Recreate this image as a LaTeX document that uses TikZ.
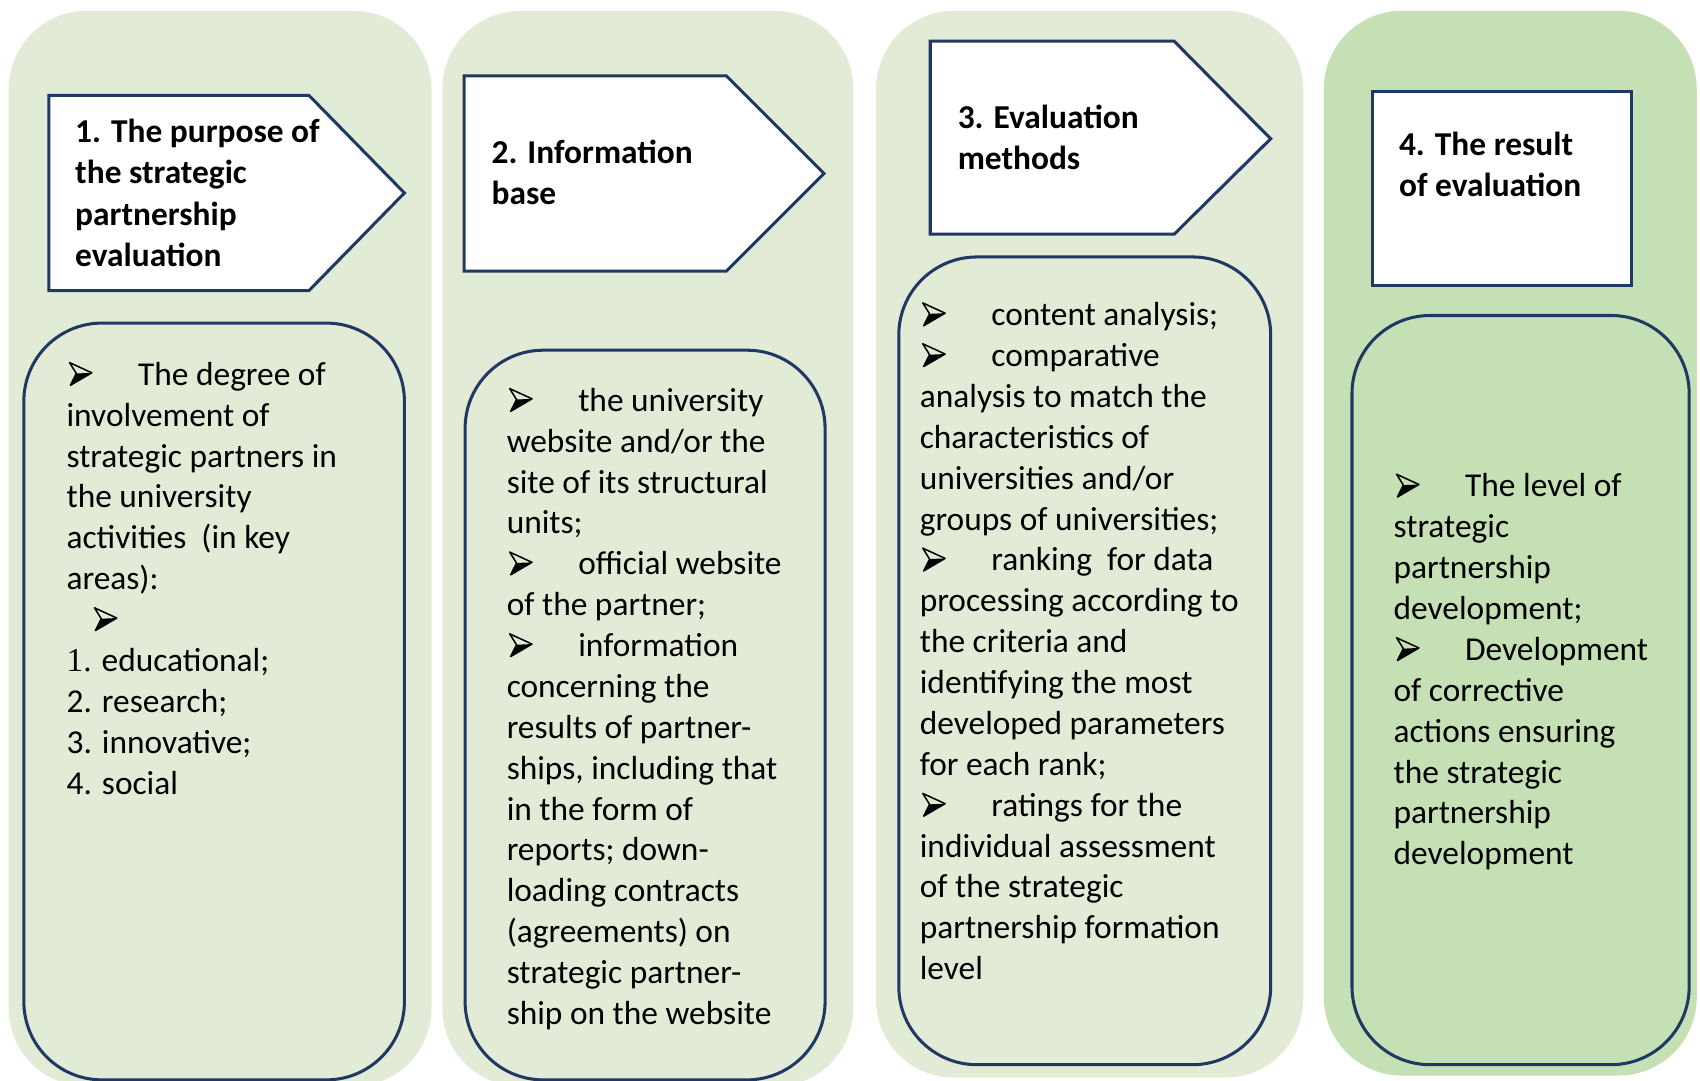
\documentclass[tikz,border=0pt]{standalone}
\usepackage{fontspec}
\setmainfont{Carlito}
\newfontfamily\serifnum{Liberation Serif}
\newcommand{\bul}{\tikz[baseline=0pt,x=10.5pt,y=10.5pt]{%
  \fill[black] (0.32,0.52) -- (1,0.55) -- (0.06,0) -- cycle;
  \draw[black, line width=0.7pt, line join=round] (0.02,1) -- (1,0.55) -- (0.06,0) -- (0.32,0.52) -- cycle;}}
\newcommand{\bitem}{\makebox[33pt][l]{\hspace{1pt}\bul}}
\definecolor{paleg}{RGB}{226,235,214}
\definecolor{darkg}{RGB}{197,224,180}
\definecolor{navy}{RGB}{32,56,100}
\tikzset{
  outerbox/.style={fill=paleg, rounded corners=36pt},
  innerbox/.style={draw=navy, line width=1.4pt, rounded corners=36pt},
  headbox/.style={draw=navy, fill=white, line width=1.4pt},
  bodytext/.style={anchor=north west, inner sep=0pt, align=left, font=\fontsize{15.4}{18.85}\selectfont},
  headtext/.style={anchor=north west, inner sep=0pt, align=left, font=\bfseries\fontsize{15.4}{19}\selectfont}
}
\begin{document}
\begin{tikzpicture}[x=0.5pt,y=-0.5pt]
\useasboundingbox (0,0) rectangle (1568,997);
% outer columns
\fill[outerbox] (8,10) rectangle (398,1002);
\fill[outerbox] (408,10) rectangle (787,1002);
\fill[outerbox] (808,10) rectangle (1202,994);
\fill[outerbox, fill=darkg] (1221,10) rectangle (1565,992);
% heading shapes
\draw[headbox] (45,88) -- (285,88) -- (373,178) -- (285,268) -- (45,268) -- cycle;
\draw[headbox] (428,70) -- (670,70) -- (760,160) -- (670,250) -- (428,250) -- cycle;
\draw[headbox] (858,38) -- (1083,38) -- (1172,128) -- (1083,216) -- (858,216) -- cycle;
\draw[headbox] (1266,84) rectangle (1505,263);
% inner boxes
\draw[innerbox] (22,298) rectangle (373,996);
\draw[innerbox] (429,323) rectangle (761,996);
\draw[innerbox] (829,237) rectangle (1172,982);
\draw[innerbox] (1247,291) rectangle (1558,982);
% heading texts
\node[headtext] (h1) at (69,104.6) {\strut 1. The purpose of\\the strategic\\partnership\\evaluation};
\node[headtext] (h2) at (453,123.6) {\strut 2. Information\\base};
\node[headtext] (h3) at (883,91.6) {\strut 3. Evaluation\\methods};
\node[headtext] (h4) at (1290,116.6) {\strut 4. The result\\of evaluation};
% body texts
\node[bodytext] (b1) at (61,328.6) {\strut\bitem The degree of\\
involvement of\\
strategic partners in\\
the university\\
activities~~(in key\\
areas):\\
\hspace{12.5pt}\bul\\
{\serifnum 1.} educational;\\
2. research;\\
3. innovative;\\
4. social};
\node[bodytext] (b2) at (467,352.6) {\strut\bitem the university\\
website and/or the\\
site of its structural\\
units;\\
\bitem official website\\
of the partner;\\
\bitem information\\
concerning the\\
results of partner-\\
ships, including that\\
in the form of\\
reports; down-\\
loading contracts\\
(agreements) on\\
strategic partner-\\
ship on the website};
\node[bodytext] (b3) at (848,273.6) {\strut\bitem content analysis;\\
\bitem comparative\\
analysis to match the\\
characteristics of\\
universities and/or\\
groups of universities;\\
\bitem ranking~~for data\\
processing according to\\
the criteria and\\
identifying the most\\
developed parameters\\
for each rank;\\
\bitem ratings for the\\
individual assessment\\
of the strategic\\
partnership formation\\
level};
\node[bodytext] (b4) at (1285,431.6) {\strut\bitem The level of\\
strategic\\
partnership\\
development;\\
\bitem Development\\
of corrective\\
actions ensuring\\
the strategic\\
partnership\\
development};
\end{tikzpicture}
\end{document}
